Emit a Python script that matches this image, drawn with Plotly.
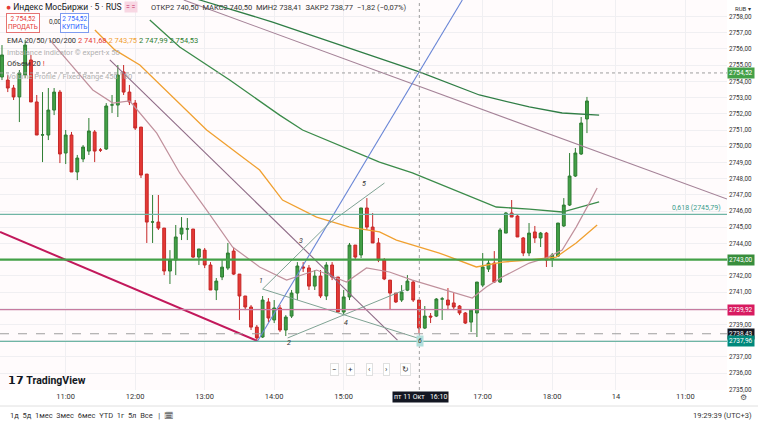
import plotly.graph_objects as go

# ---------------- data ----------------
open_ = [2754.27,2754.08,2753.59,2753.04,2754.39,2755.32,2752.73,2750.69,2750.69,2752.23,
2753.34,2749.58,2750.69,2748.41,2749.21,2749.70,2750.88,2749.77,2749.83,2752.54,
2752.54,2754.58,2753.34,2752.66,2751.18,2748.28,2745.32,2745.32,2744.95,2742.30,
2742.98,2744.58,2744.89,2744.89,2743.16,2743.59,2742.67,2741.13,2741.93,2742.48,
2743.53,2742.11,2740.76,2740.08,2738.84,2738.23,2740.39,2739.28,2740.02,2738.66,
2739.52,2740.94,2742.55,2742.49,2741.37,2741.99,2740.76,2742.67,2741.93,2739.77,
2740.70,2743.90,2743.29,2746.19,2745.01,2744.03,2742.98,2741.74,2740.94,2740.51,
2741.12,2741.62,2740.51,2738.78,2739.52,2739.52,2740.57,2740.51,2740.33,2740.14,
2739.71,2739.15,2739.71,2741.43,2742.42,2742.79,2741.62,2744.64,2745.88,2745.69,
2744.34,2743.41,2744.71,2744.34,2744.64,2743.04,2743.22,2745.08,2746.37,2748.16,
2749.52,2751.68]
high = [2756.24,2754.39,2753.78,2754.70,2756.55,2755.63,2753.16,2753.34,2753.59,2753.59,
2753.47,2751.00,2750.88,2749.46,2750.07,2751.74,2751.00,2749.89,2752.66,2753.16,
2755.01,2755.01,2753.78,2752.85,2751.18,2748.28,2746.99,2746.99,2744.95,2743.59,
2745.14,2745.63,2745.57,2744.89,2743.66,2743.72,2742.85,2741.87,2742.98,2744.03,
2743.72,2742.11,2740.76,2740.20,2738.97,2740.76,2740.63,2740.51,2740.20,2739.58,
2741.13,2742.85,2742.85,2742.67,2742.36,2742.36,2742.85,2742.85,2741.93,2741.13,
2744.03,2743.90,2746.19,2746.80,2745.88,2744.34,2743.10,2741.74,2740.94,2741.43,
2742.05,2741.74,2740.51,2740.14,2739.71,2740.63,2740.70,2741.25,2740.94,2740.20,
2739.77,2739.89,2741.62,2743.41,2742.98,2743.53,2744.95,2745.94,2746.68,2745.75,
2744.40,2745.26,2745.08,2744.71,2744.71,2743.41,2745.26,2746.80,2749.58,2749.89,
2751.80,2753.04]
low = [2754.08,2753.34,2752.85,2751.49,2754.21,2752.73,2750.69,2749.02,2750.38,2751.92,
2748.96,2748.90,2748.41,2747.91,2749.02,2749.46,2749.02,2749.64,2749.77,2752.05,
2751.80,2753.16,2752.54,2751.00,2748.04,2744.03,2744.03,2744.83,2742.05,2741.50,
2742.05,2744.21,2744.21,2743.10,2742.67,2742.48,2741.13,2740.51,2741.74,2742.36,
2742.05,2739.28,2739.89,2738.66,2737.92,2738.17,2739.15,2739.09,2738.54,2738.29,
2739.40,2740.51,2742.24,2741.13,2741.13,2740.63,2740.51,2741.74,2739.77,2739.58,
2740.51,2742.98,2743.10,2744.83,2744.03,2742.85,2741.74,2739.95,2740.33,2740.39,
2741.06,2740.39,2738.47,2738.72,2739.09,2739.46,2739.28,2739.89,2739.89,2739.58,
2739.03,2738.54,2738.23,2741.31,2742.24,2741.56,2741.56,2744.64,2745.63,2744.40,
2743.22,2743.22,2744.03,2743.78,2742.55,2742.55,2743.16,2745.02,2746.31,2748.10,
2749.46,2750.81]
close = [2755.63,2753.59,2753.04,2754.52,2756.24,2752.73,2750.69,2750.70,2752.23,2753.34,
2749.52,2750.69,2748.41,2749.27,2749.95,2750.94,2749.70,2749.76,2752.48,2752.55,
2754.39,2753.34,2752.73,2751.12,2748.22,2745.32,2745.33,2744.95,2742.30,2742.98,
2744.40,2744.95,2744.90,2743.16,2743.66,2742.67,2741.13,2741.68,2742.54,2743.41,
2742.11,2740.76,2740.08,2738.84,2738.17,2740.51,2739.40,2740.02,2738.66,2739.46,
2740.94,2742.61,2742.49,2741.37,2741.99,2740.76,2742.67,2741.93,2739.77,2740.70,
2743.90,2743.16,2746.19,2745.01,2744.03,2742.98,2741.81,2740.94,2740.39,2741.00,
2741.68,2740.51,2738.78,2739.52,2739.46,2740.57,2740.58,2740.20,2740.08,2739.71,
2739.09,2739.89,2741.62,2742.55,2742.79,2741.62,2744.83,2745.88,2745.63,2744.40,
2743.41,2744.64,2744.34,2744.64,2742.98,2743.29,2745.26,2746.37,2748.16,2749.58,
2751.43,2752.79]
# minutes since 10:00 of the first day (5-minute bars)
minutes = [5 + 5 * i for i in range(len(open_))]

ema20_t = [46.4,83.4,100.7,115.3,138.6,158.4,181.7,204.1,227.4,250.7,276.6,302.4,319.7,339.5,359.3,388.6,411.0,423.1,436.9,460.2,474.8,488.6,500.7,512.0,518.8]
ema20_v = [2756.55,2753.47,2752.66,2752.79,2750.81,2748.35,2746.06,2743.78,2742.55,2741.74,2742.36,2741.62,2742.49,2742.24,2741.74,2741.13,2740.63,2741.31,2741.93,2742.79,2743.10,2743.59,2745.01,2746.49,2747.42]
ema50_t = [85.2,102.4,124.0,152.4,181.7,210.2,227.4,247.2,276.6,305.0,330.9,345.5,382.6,414.5,436.9,460.2,483.4,500.7,518.8]
ema50_v = [2757.17,2755.94,2755.01,2753.04,2751.00,2749.46,2748.53,2746.68,2745.63,2745.01,2744.71,2744.21,2743.41,2742.55,2742.85,2742.98,2743.16,2744.03,2745.14]
ema100_t = [132.6,158.4,201.6,244.7,264.5,305.0,330.9,359.3,402.4,431.7,460.2,488.6,520.5]
ema100_v = [2757.79,2756.12,2754.08,2751.92,2751.00,2749.77,2749.02,2748.35,2747.11,2746.25,2746.12,2745.94,2746.56]
ema200_t = [149.8,175.7,238.6,302.4,365.3,417.1,460.2,488.6,520.5]
ema200_v = [2759.64,2759.02,2757.66,2756.12,2754.58,2753.16,2752.42,2752.05,2751.92]

# drawings (time in minutes, price)
long_trend_t = [161.9, 630.9]; long_trend_v = [2759.02, 2746.74]
diag_trend_t = [98.1, 346.4]; diag_trend_v = [2755.32, 2738.04]
magenta_t = [3.3, 225.7]; magenta_v = [2744.71, 2737.98]
blue_t = [225.7, 402.4]; blue_v = [2737.98, 2759.02]
wave1_t = [230.0, 287.8, 335.2]; wave1_v = [2741.19, 2745.26, 2747.73]
wave2_t = [230.0, 363.6]; wave2_v = [2741.19, 2738.17]
wave3_t = [251.6, 352.4]; wave3_v = [2738.17, 2741.13]
wave_labels = ["1", "2", "3", "4", "5"]
wave_label_t = [228.3, 252.4, 262.8, 302.4, 317.9]
wave_label_v = [2741.68, 2737.86, 2744.15, 2739.09, 2747.67]

levels = [2745.79, 2743.00, 2739.92, 2738.43, 2737.96, 2754.52]
tick_vals = list(range(2735, 2759))
time_tick_vals = [60, 120, 180, 240, 300, 420, 480, 535, 595]
time_tick_text = ["11:00", "12:00", "13:00", "14:00", "15:00", "17:00", "18:00", "14", "11:00"]
cross_t = 365.3

FONT = "Roboto, Liberation Sans, sans-serif"
PW, PH = 727, 390  # plot area px

fig = go.Figure()
fig.add_trace(go.Candlestick(
    x=minutes, open=open_, high=high, low=low, close=close,
    increasing=dict(line=dict(color="#2e7d32", width=1), fillcolor="#43a047"),
    decreasing=dict(line=dict(color="#c62828", width=1), fillcolor="#e53935"),
    whiskerwidth=0, showlegend=False, hoverinfo="skip"))

def line(t, v, color, width=1.2, dash="solid"):
    fig.add_trace(go.Scatter(x=t, y=v, mode="lines", line=dict(color=color, width=width, dash=dash),
                             showlegend=False, hoverinfo="skip"))

line(ema200_t, ema200_v, "#2f7d45", 1.3)
line(ema100_t, ema100_v, "#3b8b4a", 1.3)
line(ema50_t, ema50_v, "#f0a030", 1.3)
line(ema20_t, ema20_v, "#c0909c", 1.2)
line(long_trend_t, long_trend_v, "#a58398", 1.1)
line(diag_trend_t, diag_trend_v, "#8e6a86", 1.1)
line(magenta_t, magenta_v, "#c2185b", 2)
line(blue_t, blue_v, "#6a86d6", 1.1)
for t, v in [(wave1_t, wave1_v), (wave2_t, wave2_v), (wave3_t, wave3_v)]:
    line(t, v, "#7fa394", 1)

shapes = []
lv_style = [("#6fb5a5", 1.2, "solid"), ("#43a047", 2.2, "solid"), ("#c77ba0", 1.3, "solid"),
            ("#9e9e9e", 1, "dash"), ("#6fb5a5", 1.2, "solid"), ("#9e9e9e", 1, "dot")]
for lv, (c, w, d) in zip(levels, lv_style):
    shapes.append(dict(type="line", xref="paper", x0=0, x1=1, yref="y", y0=lv, y1=lv,
                       line=dict(color=c, width=w, dash=d), layer="above"))
shapes.append(dict(type="line", xref="x", x0=cross_t, x1=cross_t, yref="paper", y0=0, y1=1,
                   line=dict(color="#9e9e9e", width=1, dash="dot")))
shapes.append(dict(type="line", xref="paper", x0=0, x1=758 / PW, yref="paper",
                   y0=1 - 406 / PH, y1=1 - 406 / PH, line=dict(color="#e0e0e0", width=1)))

ann = []
def txt(x, y, s, size=8, color="#131722", xanchor="left", **kw):
    ann.append(dict(xref="paper", yref="paper", x=x / PW, y=1 - y / PH, text=s, showarrow=False,
                    xanchor=xanchor, yanchor="middle", font=dict(size=size, color=color, family=FONT), **kw))

for s, t, v in zip(wave_labels, wave_label_t, wave_label_v):
    ann.append(dict(x=t, y=v, text=f"<i>{s}</i>", showarrow=False, font=dict(size=7, color="#333", family=FONT)))
ann.append(dict(x=cross_t + 0.5, y=2737.98, text="<i>6</i>", showarrow=False, bgcolor="#b2dfdb",
                font=dict(size=7, color="#333", family=FONT)))

tags = [(2754.52, "#43a047"), (2743.00, "#388e3c"), (2739.92, "#d81b60"), (2738.43, "#131722"), (2737.96, "#00897b")]
for v, c in tags:
    lab = f"{v:.2f}".replace(".", ",")
    ann.append(dict(xref="paper", yref="y", x=1.0, y=v, text=lab, showarrow=False, xanchor="left",
                    bgcolor=c, font=dict(size=6.5, color="white", family=FONT), borderpad=1))
ann.append(dict(xref="paper", yref="y", x=0.995, y=2745.79, text="0,618 (2745,79)", showarrow=False,
                xanchor="right", yanchor="bottom", font=dict(size=7, color="#3a9c8c", family=FONT)))

txt(4, 7, "<span style='color:#e53935'>●</span> Индекс МосБиржи · 5 · RUS", 8.5)
txt(124, 7, "= =", 7, "#c2185b", bgcolor="#f8d7e3")
txt(149, 7, "ОТКР2 740,50  МАКС2 740,50  МИН2 738,41  ЗАКР2 738,77  −1,82 (−0,07%)", 7.5, "#333")
txt(6, 23, "2 754,52<br>ПРОДАТЬ", 6.5, "#e53935", bordercolor="#e57373", borderwidth=1, bgcolor="white")
txt(47, 22, "0,00", 6.5, "#333")
txt(60, 23, "2 754,52<br>КУПИТЬ", 6.5, "#2962ff", bordercolor="#7e9cf0", borderwidth=1, bgcolor="white")
txt(5, 41, "EMA 20/50/100/200 <span style='color:#e53935'>2 741,68</span> <span style='color:#f0a030'>2 743,75</span> "
    "<span style='color:#2e7d32'>2 747,99</span> <span style='color:#2e7d32'>2 754,53</span>", 7.5, "#333")
txt(5, 53, "Imbalance indicator © expert-x 50", 7.5, "#b0b0b0")
txt(5, 64, "Объем 20 <span style='color:#e53935'>!</span>", 7.5, "#333")
txt(5, 77, "Volume Profile / Fixed Range 450 100", 7.5, "#b0b0b0")
txt(743, 8, "RUB ▾", 6, "#333", xanchor="center")
txt(6, 380, "<b>𝟭𝟳 TradingView</b>", 10.5, "#131722")
for xx, s in [(334, "−"), (350, "+"), (370, "‹"), (386, "›"), (406, "↻")]:
    txt(xx, 369, s, 8, "#333", xanchor="center", bgcolor="white", bordercolor="#e0e0e0", borderwidth=1)
txt(420, 397, "пт 11 Окт   16:10", 7, "white", xanchor="center", bgcolor="#131722")
txt(743, 397, "⚙", 8, "#555", xanchor="center")
txt(8, 415, "1д  5д  1мес  3мес  6мес  YTD  1г  5л  Все   |  🗓", 7.5, "#333")
txt(754, 415, "19:29:39 (UTC+3)", 7.5, "#333", xanchor="right")

fig.update_layout(
    width=758, height=426, margin=dict(l=0, r=31, t=0, b=36),
    paper_bgcolor="white", plot_bgcolor="#fffbfc",
    shapes=shapes, annotations=ann, showlegend=False,
    xaxis=dict(range=[3.28, 630.9], rangeslider=dict(visible=False), showgrid=True, gridcolor="#f0eff2",
               tickvals=time_tick_vals, ticktext=time_tick_text, tickfont=dict(size=7.5, color="#333", family=FONT),
               zeroline=False, showline=False, ticks=""),
    yaxis=dict(range=[2734.96, 2759.02], side="right", showgrid=True, gridcolor="#f0eff2",
               tickvals=tick_vals, ticktext=[f"{v},00" for v in tick_vals], ticklabelstandoff=1,
               tickfont=dict(size=6.3, color="#333", family=FONT), zeroline=False, ticks=""),
)
fig.write_html("out.html", config={"displayModeBar": False},
               post_script="document.body.style.margin='0';document.body.style.overflow='hidden';")
